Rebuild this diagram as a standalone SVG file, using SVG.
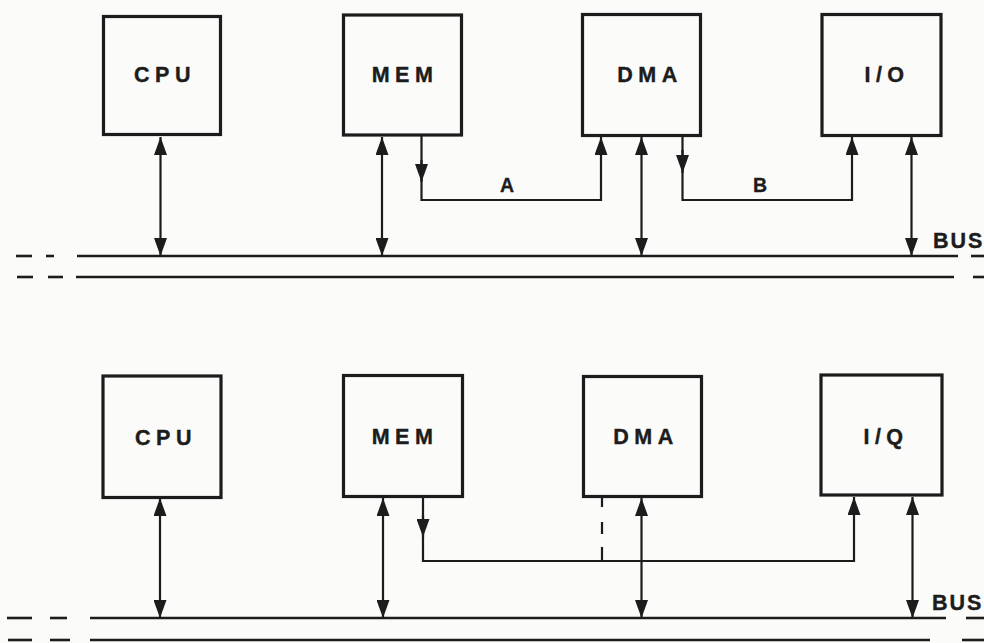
<svg xmlns="http://www.w3.org/2000/svg" width="984" height="643" viewBox="0 0 984 643">
<style>
.box{fill:none;stroke:#1c1c1c;stroke-width:3.2}
.lbl{font-family:"Liberation Sans",Arial,sans-serif;font-weight:bold;font-size:21.5px;letter-spacing:5.5px;fill:#1c1c1c;text-anchor:middle;stroke:#1c1c1c;stroke-width:0.4}
.sm{font-family:"Liberation Sans",Arial,sans-serif;font-weight:bold;font-size:19.5px;fill:#1c1c1c;text-anchor:middle;stroke:#1c1c1c;stroke-width:0.3}
.bus{font-family:"Liberation Sans",Arial,sans-serif;font-weight:bold;font-size:21.5px;letter-spacing:2px;fill:#1c1c1c;stroke:#1c1c1c;stroke-width:0.4}
.c{fill:none;stroke:#1c1c1c;stroke-width:2.2}
.b{fill:none;stroke:#1c1c1c;stroke-width:2.6}
</style>
<defs>
<marker id="arr" viewBox="0 0 18 13" markerWidth="18" markerHeight="13" refX="18" refY="6.5" orient="auto-start-reverse" markerUnits="userSpaceOnUse">
<path d="M0,0 L18,6.5 L0,13 z" fill="#1c1c1c"/>
</marker>
</defs>
<rect width="984" height="643" fill="#fbfbfa"/>

<g id="top-cpu"><rect class="box" x="103.5" y="16.5" width="117" height="118"/><text class="lbl" x="165" y="82">CPU</text></g>
<g id="top-mem"><rect class="box" x="343.5" y="15" width="118" height="120"/><text class="lbl" x="405" y="82">MEM</text></g>
<g id="top-dma"><rect class="box" x="582.5" y="14.5" width="118" height="121"/><text class="lbl" x="650" y="82">DMA</text></g>
<g id="top-io"><rect class="box" x="822" y="14.5" width="119" height="121"/><text class="lbl" x="887" y="82">I/O</text></g>

<g id="bot-cpu"><rect class="box" x="103" y="376" width="118" height="121.5"/><text class="lbl" x="166" y="445">CPU</text></g>
<g id="bot-mem"><rect class="box" x="343.5" y="375.5" width="119" height="121"/><text class="lbl" x="405" y="444">MEM</text></g>
<g id="bot-dma"><rect class="box" x="583.5" y="376.5" width="118" height="120"/><text class="lbl" x="646" y="444">DMA</text></g>
<g id="bot-io"><rect class="box" x="821" y="375" width="121" height="120"/><text class="lbl" x="886" y="444">I/Q</text></g>

<g id="buses">
<line class="b" x1="77" y1="256" x2="958" y2="256"/>
<line class="b" x1="16" y1="256" x2="32" y2="256"/>
<line class="b" x1="46" y1="256" x2="54" y2="256"/>
<line class="b" x1="971" y1="256" x2="984" y2="256"/>
<line class="b" x1="76" y1="277" x2="954" y2="277"/>
<line class="b" x1="17" y1="277" x2="33" y2="277"/>
<line class="b" x1="48" y1="277" x2="63" y2="277"/>
<line class="b" x1="973" y1="277" x2="984" y2="277"/>
<text class="bus" x="933" y="248">BUS</text>

<line class="b" x1="90" y1="618" x2="946" y2="618"/>
<line class="b" x1="7" y1="618" x2="32" y2="618"/>
<line class="b" x1="50" y1="618" x2="67" y2="618"/>
<line class="b" x1="966" y1="618" x2="984" y2="618"/>
<line class="b" x1="90" y1="640" x2="930" y2="640"/>
<line class="b" x1="8" y1="640" x2="32" y2="640"/>
<line class="b" x1="50" y1="640" x2="70" y2="640"/>
<line class="b" x1="962" y1="640" x2="984" y2="640"/>
<text class="bus" x="932" y="610">BUS</text>
</g>

<g id="connectors">
<line class="c" x1="160.5" y1="137" x2="160.5" y2="256" marker-start="url(#arr)" marker-end="url(#arr)"/>
<line class="c" x1="382" y1="137" x2="382" y2="256" marker-start="url(#arr)" marker-end="url(#arr)"/>
<line class="c" x1="641.5" y1="137" x2="641.5" y2="256" marker-start="url(#arr)" marker-end="url(#arr)"/>
<line class="c" x1="911.5" y1="137" x2="911.5" y2="256" marker-start="url(#arr)" marker-end="url(#arr)"/>
<path class="c" d="M421.5,136 L421.5,200 L601,200 L601,137" marker-end="url(#arr)"/>
<line class="c" x1="421.5" y1="160" x2="421.5" y2="182" marker-end="url(#arr)"/>
<path class="c" d="M682.5,136 L682.5,200 L852,200 L852,137" marker-end="url(#arr)"/>
<line class="c" x1="682.5" y1="150" x2="682.5" y2="173" marker-end="url(#arr)"/>
<text class="sm" x="507" y="192">A</text>
<text class="sm" x="760" y="192">B</text>

<line class="c" x1="160" y1="498" x2="160" y2="618" marker-start="url(#arr)" marker-end="url(#arr)"/>
<line class="c" x1="383" y1="498" x2="383" y2="618" marker-start="url(#arr)" marker-end="url(#arr)"/>
<line class="c" x1="641.5" y1="498" x2="641.5" y2="618" marker-start="url(#arr)" marker-end="url(#arr)"/>
<line class="c" x1="912.5" y1="497" x2="912.5" y2="618" marker-start="url(#arr)" marker-end="url(#arr)"/>
<path class="c" d="M423,497 L423,561 L854,561 L854,497" marker-end="url(#arr)"/>
<line class="c" x1="423" y1="515" x2="423" y2="537" marker-end="url(#arr)"/>
<line class="c" x1="602" y1="498" x2="602" y2="561" stroke-dasharray="9 15 12 13 13 0"/>
</g>
</svg>
